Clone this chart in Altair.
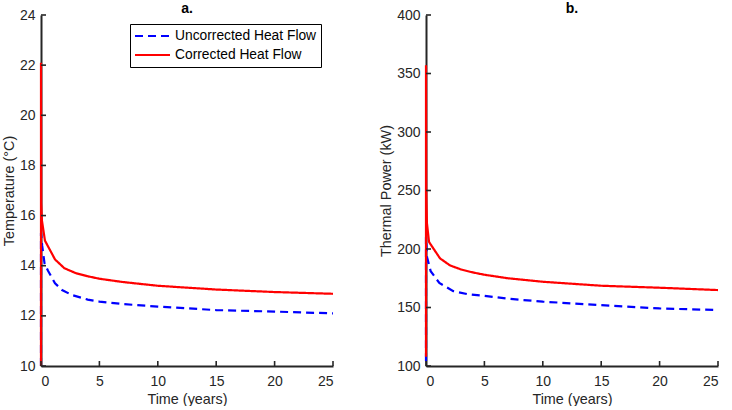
import altair as alt
import pandas as pd

# ---------------- data ----------------
series_names = ["Uncorrected Heat Flow", "Corrected Heat Flow"]

# Panel a: temperature (°C)
a_unc_time = [0, 0, 0.1, 0.3, 0.6, 1.2, 1.8, 2.65, 4, 5, 7, 10, 15, 20, 25]
a_unc_temp = [10, 15.3, 14.8, 14.1, 13.8, 13.3, 13.03, 12.83, 12.65, 12.57, 12.47, 12.37, 12.23, 12.17, 12.1]
a_cor_time = [0, 0, 0.02, 0.08, 0.34, 1.2, 2, 3, 4, 5, 7, 10, 15, 20, 25]
a_cor_temp = [10, 22.1, 16.5, 15.8, 15.0, 14.25, 13.9, 13.7, 13.58, 13.48, 13.35, 13.2, 13.05, 12.95, 12.88]

# Panel b: thermal power (kW)
b_unc_time = [0, 0, 0.09, 0.4, 1.14, 2.34, 3.5, 5, 7, 10, 15, 20, 25]
b_unc_power = [104, 210, 193, 181, 171, 164, 161.5, 160, 157.5, 155, 152, 149.2, 147.8]
b_cor_time = [0, 0, 0.02, 0.08, 0.26, 1.2, 2.05, 3, 4, 5, 7, 10, 15, 20, 25]
b_cor_power = [108, 357, 250, 222, 206, 192, 186, 182.5, 180, 178, 175, 172, 168.6, 166.9, 164.9]

x_ticks = [0, 5, 10, 15, 20, 25]
a_y_ticks = [10, 12, 14, 16, 18, 20, 22, 24]
b_y_ticks = [100, 150, 200, 250, 300, 350, 400]

# ---------------- style ----------------
FONT = "Liberation Sans"
INK = "#262626"
W, H = 292, 351


def frame(series, t, v):
    return pd.DataFrame({"series": series, "t": t, "v": v, "i": list(range(len(t)))})


color_scale = alt.Scale(domain=series_names, range=["#0000ff", "#ff0000"])
dash_scale = alt.Scale(domain=series_names, range=[[8, 5], [1, 0]])


def panel(df_unc, df_cor, y_domain, y_ticks, y_title, title, show_legend):
    x_scale = alt.Scale(domain=[0, 25], nice=False, zero=False)
    y_scale = alt.Scale(domain=y_domain, nice=False, zero=False)
    x_axis = alt.Axis(values=x_ticks, title="Time (years)", format="d",
                      labelPadding=8, titlePadding=4)
    y_axis = alt.Axis(values=y_ticks, title=y_title, format="d")
    if show_legend:
        legend = alt.Legend(
            title=None, orient="none", legendX=89, legendY=9,
            symbolType="stroke", symbolSize=1225, symbolStrokeWidth=2,
            labelFont=FONT, labelFontSize=13.8, labelColor="black",
            labelOffset=4, clipHeight=16, rowPadding=3, padding=4,
            strokeColor="black", fillColor="white",
        )
    else:
        legend = None

    def line(df):
        return alt.Chart(df).mark_line(strokeWidth=2.2).encode(
            x=alt.X("t:Q", scale=x_scale, axis=x_axis),
            y=alt.Y("v:Q", scale=y_scale, axis=y_axis),
            color=alt.Color("series:N", scale=color_scale, legend=legend),
            strokeDash=alt.StrokeDash("series:N", scale=dash_scale, legend=legend),
            order="i:Q",
        )

    xt = alt.Chart(pd.DataFrame({"t": x_ticks})).mark_rule(color=INK, strokeWidth=1.6).encode(
        x=alt.X("t:Q", scale=x_scale, axis=x_axis),
        y=alt.value(H), y2=alt.value(H - 5),
    )
    yt = alt.Chart(pd.DataFrame({"v": y_ticks})).mark_rule(color=INK, strokeWidth=1.6).encode(
        y=alt.Y("v:Q", scale=y_scale, axis=y_axis),
        x=alt.value(0), x2=alt.value(5),
    )
    return alt.layer(line(df_unc), line(df_cor), xt, yt).properties(
        width=W, height=H,
        title=alt.TitleParams(title, fontWeight="bold", fontSize=14, font=FONT,
                              color="black", anchor="middle", frame="group", offset=-8),
    )


pa = panel(frame(series_names[0], a_unc_time, a_unc_temp),
           frame(series_names[1], a_cor_time, a_cor_temp),
           [10, 24], a_y_ticks, "Temperature (°C)", "a.", True)
pb = panel(frame(series_names[0], b_unc_time, b_unc_power),
           frame(series_names[1], b_cor_time, b_cor_power),
           [100, 400], b_y_ticks, "Thermal Power (kW)", "b.", False)

chart = (
    alt.hconcat(pa, pb, spacing=93, bounds="flush")
    .resolve_scale(color="independent", strokeDash="independent")
    .properties(padding={"left": 1, "top": 2, "right": 0, "bottom": 0}, background="white")
    .configure_view(stroke=None)
    .configure_axis(
        grid=False, ticks=False, domainColor=INK, domainWidth=2,
        labelFont=FONT, labelFontSize=14, labelColor=INK, labelPadding=6,
        titleFont=FONT, titleFontSize=14.4, titleColor=INK, titleFontWeight="normal",
        titlePadding=3,
    )
)

chart.save("out.html", embed_options={"renderer": "svg", "actions": False})
